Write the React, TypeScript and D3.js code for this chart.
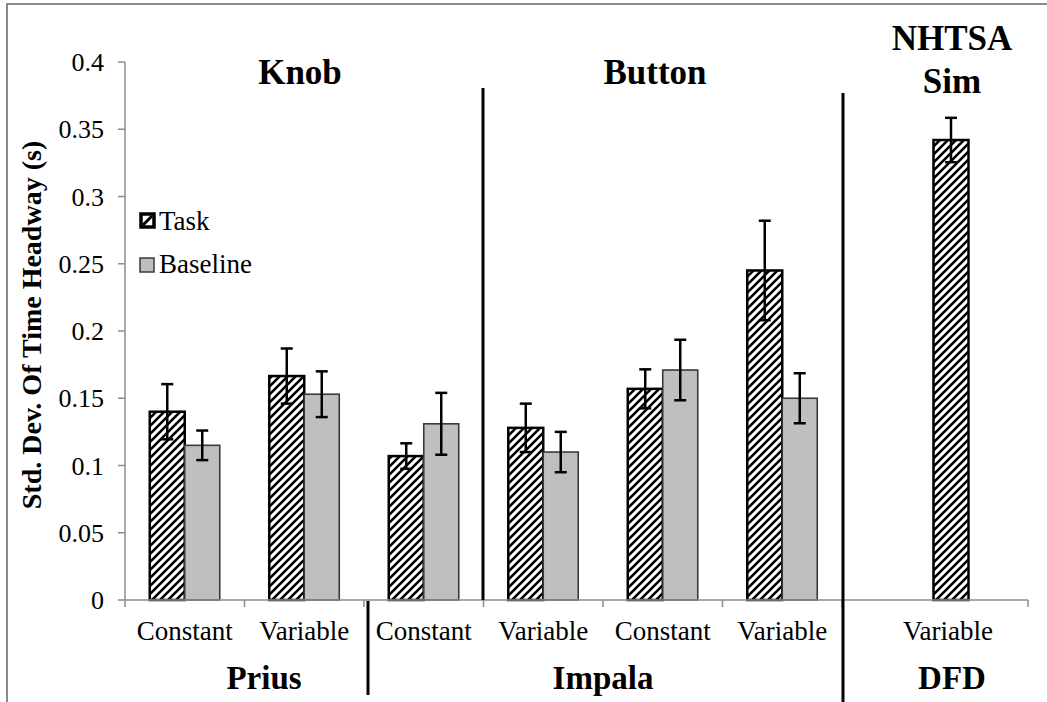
import React from "react";
import * as d3 from "d3";

const categories = ["Constant", "Variable", "Constant", "Variable", "Constant", "Variable"];
const taskMeans = [0.14, 0.1665, 0.107, 0.128, 0.157, 0.245];
const taskErr = [0.0205, 0.0205, 0.0095, 0.018, 0.0145, 0.037];
const baseMeans = [0.115, 0.153, 0.131, 0.11, 0.171, 0.15];
const baseErr = [0.011, 0.017, 0.023, 0.015, 0.0225, 0.0186];
const dfdCategory = ["Variable"];
const dfdTaskMean = [0.342];
const dfdTaskErr = [0.0165];
const series = ["Task", "Baseline"];
const yTicks = [0, 0.05, 0.1, 0.15, 0.2, 0.25, 0.3, 0.35, 0.4];
const yTickLabels = ["0", "0.05", "0.1", "0.15", "0.2", "0.25", "0.3", "0.35", "0.4"];
const groupLabels = ["Prius", "Impala", "DFD"];
const topLabels = ["Knob", "Button"];

const W = 1047, H = 702;
const FONT = '"Liberation Serif", "DejaVu Serif", "Times New Roman", Times, serif';

export default function App() {
  const y = d3.scaleLinear().domain([0, 0.4]).range([600, 62]);
  const idx = categories.map((_, i) => String(i));
  const x = d3.scaleBand().domain(idx).range([125, 842]).paddingInner(0).paddingOuter(0);
  const xd = d3.scaleBand().domain(dfdCategory).range([845, 1057]);
  const inner = d3.scaleBand().domain(series).range([-35, 35]);
  const step = x.step();
  const boundaries = d3.range(categories.length + 1).map((i) => 125 + i * step);
  const axisEnd = 1028;
  const cap = 6;
  const tStyle = { fontFamily: FONT };

  const errBar = (cx: number, m: number, e: number, key: string) => (
    <g key={key} stroke="#000" strokeWidth={2.5}>
      <line x1={cx} x2={cx} y1={y(m + e)} y2={y(m - e)} />
      <line x1={cx - cap} x2={cx + cap} y1={y(m + e)} y2={y(m + e)} />
      <line x1={cx - cap} x2={cx + cap} y1={y(m - e)} y2={y(m - e)} />
    </g>
  );

  return (
    <svg width={W} height={H} style={{ position: "absolute", left: 0, top: 0, background: "#fff", fontFamily: FONT }}>
      <defs>
        <pattern id="hatch" patternUnits="userSpaceOnUse" width={8} height={8}>
          <rect width={8} height={8} fill="#fff" />
          <path d="M-2,2 l4,-4 M0,8 l8,-8 M6,10 l4,-4" stroke="#000" strokeWidth={2.6} />
        </pattern>
      </defs>
      <rect x={0} y={0} width={W} height={H} fill="#fff" />
      {/* frame */}
      <line x1={6} x2={W} y1={4} y2={4} stroke="#8a8a8a" strokeWidth={2} />
      <line x1={7} x2={7} y1={4} y2={H} stroke="#8a8a8a" strokeWidth={2} />

      {/* y axis */}
      <line x1={125} x2={125} y1={y(0.4)} y2={y(0)} stroke="#8c8c8c" strokeWidth={1.5} />
      {yTicks.map((t, i) => (
        <g key={"yt" + i}>
          <line x1={118} x2={125} y1={y(t)} y2={y(t)} stroke="#8c8c8c" strokeWidth={1.5} />
          <text x={104} y={y(t)} dy="0.35em" textAnchor="end" fontSize={26} fill="#000" style={tStyle}>
            {yTickLabels[i]}
          </text>
        </g>
      ))}
      <text
        transform={`translate(41,${325}) rotate(-90)`}
        textAnchor="middle"
        fontSize={28}
        fontWeight="bold"
        fill="#000"
        style={tStyle}
      >
        Std. Dev. Of Time Headway (s)
      </text>

      {/* bars */}
      {categories.map((c, i) => {
        const cx = (x(String(i)) as number) + step / 2;
        const tx = cx + (inner("Task") as number);
        const bx = cx + (inner("Baseline") as number);
        const bw = inner.bandwidth();
        return (
          <g key={"bar" + i}>
            <rect x={tx} y={y(taskMeans[i])} width={bw} height={y(0) - y(taskMeans[i])} fill="url(#hatch)" stroke="#000" strokeWidth={2.5} />
            <rect x={bx} y={y(baseMeans[i])} width={bw} height={y(0) - y(baseMeans[i])} fill="#bfbfbf" stroke="#3a3a3a" strokeWidth={1.6} />
            {errBar(tx + bw / 2, taskMeans[i], taskErr[i], "et" + i)}
            {errBar(bx + bw / 2, baseMeans[i], baseErr[i], "eb" + i)}
          </g>
        );
      })}
      {dfdCategory.map((c, i) => {
        const cx = (xd(c) as number) + xd.bandwidth() / 2;
        const bw = inner.bandwidth();
        const tx = cx - bw / 2;
        return (
          <g key={"dfd" + i}>
            <rect x={tx} y={y(dfdTaskMean[i])} width={bw} height={y(0) - y(dfdTaskMean[i])} fill="url(#hatch)" stroke="#000" strokeWidth={2.5} />
            {errBar(cx, dfdTaskMean[i], dfdTaskErr[i], "ed" + i)}
          </g>
        );
      })}

      {/* x axis */}
      <line x1={125} x2={axisEnd} y1={y(0)} y2={y(0)} stroke="#8c8c8c" strokeWidth={1.5} />
      {[...boundaries, axisEnd].map((b, i) => (
        <line key={"xt" + i} x1={b} x2={b} y1={y(0)} y2={y(0) + 7} stroke="#8c8c8c" strokeWidth={1.5} />
      ))}
      {categories.map((c, i) => (
        <text key={"cl" + i} x={(x(String(i)) as number) + step / 2} y={640} textAnchor="middle" fontSize={27} fill="#000" style={tStyle}>
          {c}
        </text>
      ))}
      {dfdCategory.map((c) => (
        <text key={"dl" + c} x={948} y={640} textAnchor="middle" fontSize={27} fill="#000" style={tStyle}>
          {c}
        </text>
      ))}

      {/* separators */}
      <line x1={368} x2={368} y1={601} y2={695} stroke="#000" strokeWidth={3} />
      <line x1={483} x2={483} y1={88} y2={600} stroke="#000" strokeWidth={3} />
      <line x1={843} x2={843} y1={93} y2={H} stroke="#000" strokeWidth={3} />

      {/* group labels */}
      <text x={264} y={689} textAnchor="middle" fontSize={33} fontWeight="bold" style={tStyle}>{groupLabels[0]}</text>
      <text x={603} y={689} textAnchor="middle" fontSize={33} fontWeight="bold" style={tStyle}>{groupLabels[1]}</text>
      <text x={952} y={689} textAnchor="middle" fontSize={33} fontWeight="bold" style={tStyle}>{groupLabels[2]}</text>

      {/* top labels */}
      <text x={300} y={84} textAnchor="middle" fontSize={35} fontWeight="bold" style={tStyle}>{topLabels[0]}</text>
      <text x={655} y={84} textAnchor="middle" fontSize={35} fontWeight="bold" style={tStyle}>{topLabels[1]}</text>
      <text x={952} y={50} textAnchor="middle" fontSize={35} fontWeight="bold" style={tStyle}>NHTSA</text>
      <text x={952} y={93} textAnchor="middle" fontSize={35} fontWeight="bold" style={tStyle}>Sim</text>

      {/* legend */}
      <rect x={141} y={214} width={13} height={13} fill="#fff" stroke="#000" strokeWidth={3.5} />
      <line x1={143} y1={225} x2={152} y2={216} stroke="#000" strokeWidth={3} />
      <text x={159} y={230} fontSize={27} style={tStyle}>Task</text>
      <rect x={140} y={258} width={14} height={14} fill="#bfbfbf" stroke="#3a3a3a" strokeWidth={1.5} />
      <text x={159} y={273} fontSize={27} style={tStyle}>Baseline</text>
    </svg>
  );
}
